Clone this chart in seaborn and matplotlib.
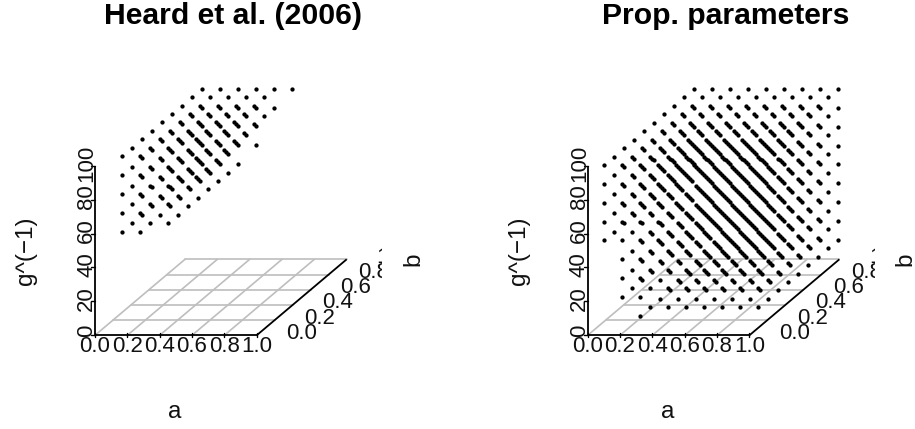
import matplotlib

matplotlib.use("Agg")
import matplotlib.pyplot as plt
import pandas as pd
import seaborn as sns

a_levels = [1 / 9, 2 / 9, 3 / 9, 4 / 9, 5 / 9, 6 / 9, 7 / 9, 8 / 9, 1.0]
b_levels = [0.0, 1 / 9, 2 / 9, 3 / 9, 4 / 9, 5 / 9, 6 / 9, 7 / 9, 8 / 9, 1.0]
g_levels = [100 / 9, 200 / 9, 300 / 9, 400 / 9, 500 / 9, 600 / 9, 700 / 9, 800 / 9, 100.0]

# Heard: how many a levels are kept, per g level (key = g index) and b level (b index 1..9)
heard_a_count = {
    4: [2, 3, 3, 3, 3, 3, 3, 3, 3],
    5: [2, 3, 3, 3, 3, 3, 3, 3, 4],
    6: [2, 3, 4, 4, 4, 4, 4, 4, 4],
    7: [2, 3, 4, 5, 5, 5, 5, 5, 5],
    8: [2, 3, 4, 5, 5, 5, 5, 5, 6],
}
# Proposed: first a level used for each g level, last a level used when b = 0
prop_a_first = [3, 2, 2, 2, 1, 1, 1, 1, 1]
prop_a_last_b0 = [3, 3, 3, 3, 4, 4, 5, 5, 6]

tick_vals = [0.0, 0.2, 0.4, 0.6, 0.8, 1.0]
tick_labels = ["0.0", "0.2", "0.4", "0.6", "0.8", "1.0"]
g_ticks = [0, 20, 40, 60, 80, 100]
g_tick_labels = ["0", "20", "40", "60", "80", "100"]
titles = ["Heard et al. (2006)", "Prop. parameters"]

W, H = 915, 429
A_PX = 161.7
G_PX = 1.696
BX = 90 / A_PX
BY = 76 / G_PX
ORIGIN_Y = 335.3
TEXT_COLOR = "#111111"


def heard_points():
    rows = []
    for k, counts in heard_a_count.items():
        for j, n in enumerate(counts, start=1):
            for i in range(n):
                rows.append((a_levels[i], b_levels[j], g_levels[k]))
    return pd.DataFrame(rows, columns=["a", "b", "g"])


def prop_points():
    rows = []
    for k, g in enumerate(g_levels):
        for j, b in enumerate(b_levels):
            last = prop_a_last_b0[k] if j == 0 else 9
            for i in range(prop_a_first[k] - 1, last):
                rows.append((a_levels[i], b, g))
    return pd.DataFrame(rows, columns=["a", "b", "g"])


def project(a, b, g):
    return a + BX * b, g + BY * b


def draw_panel(fig, origin_x, df, title, nudge):
    left, right, top, bottom = origin_x - 75, origin_x + 287, 40, 370
    ax = fig.add_axes([left / W, 1 - bottom / H, (right - left) / W, (bottom - top) / H])
    ax.set_xlim((left - origin_x) / A_PX, (right - origin_x) / A_PX)
    ax.set_ylim((ORIGIN_Y - bottom) / G_PX, (ORIGIN_Y - top) / G_PX)
    ax.axis("off")

    # grid on the floor
    for t in tick_vals:
        if t < 1:
            x0, y0 = project(t, 0, 0)
            x1, y1 = project(t, 1, 0)
            ax.plot([x0, x1], [y0, y1], color="#bebebe", lw=1.2, zorder=1)
        if t > 0:
            x0, y0 = project(0, t, 0)
            x1, y1 = project(1, t, 0)
            ax.plot([x0, x1], [y0, y1], color="#bebebe", lw=1.2, zorder=1)

    # box axes
    ax.plot([0, 1], [0, 0], color="black", lw=1.3, zorder=2, solid_capstyle="butt")
    ax.plot([0, 0], [0, 100], color="black", lw=1.3, zorder=2, solid_capstyle="butt")
    x1, y1 = project(1, 1, 0)
    ax.plot([1, x1], [0, y1], color="black", lw=1.3, zorder=2, solid_capstyle="butt")

    for t, lab in zip(tick_vals, tick_labels):
        ax.plot([t, t], [-1.2, 1.2], color="black", lw=1.0, zorder=2)
        ax.text(t, -(347 - ORIGIN_Y) / G_PX, lab, ha="center", va="center",
                fontsize=16, color=TEXT_COLOR, clip_on=False)
        bx, by = project(1, t, 0)
        ax.text(bx + 45 / A_PX, by + 2 / G_PX, lab, ha="center", va="center",
                fontsize=16, color=TEXT_COLOR, clip_on=True)

    for g, lab in zip(g_ticks, g_tick_labels):
        ax.plot([-4 / A_PX, 0], [g, g], color="black", lw=1.0, zorder=2)
        shift = 4.5 if g == 0 else 2.5
        ax.text(-8.3 / A_PX, g + shift / G_PX, lab, rotation=90, ha="center", va="center",
                fontsize=16, color=TEXT_COLOR, clip_on=False)

    proj = df.copy()
    proj["px"], proj["py"] = project(proj["a"], proj["b"], proj["g"])
    proj["px"] += nudge[0] / A_PX
    proj["py"] += nudge[1] / G_PX
    sns.scatterplot(data=proj, x="px", y="py", ax=ax, color="black", s=9.5, linewidth=0,
                    legend=False, zorder=3, clip_on=False)
    ax.set_xlabel("")
    ax.set_ylabel("")

    ax.text((175 - 95) / A_PX, -(412 - ORIGIN_Y) / G_PX, "a", ha="center", va="center",
            fontsize=17.5, color=TEXT_COLOR, clip_on=False)
    ax.text((413 - 95) / A_PX, (ORIGIN_Y - 259) / G_PX, "b", rotation=90, ha="center",
            va="center", fontsize=17.5, color=TEXT_COLOR, clip_on=False)
    ax.text((26.5 - 95) / A_PX, (ORIGIN_Y - 251) / G_PX, "g^(\u22121)", rotation=90, ha="center",
            va="center", fontsize=17.5, color=TEXT_COLOR, clip_on=False)
    ax.text((233 - 95) / A_PX, (ORIGIN_Y - 15.5) / G_PX, title, ha="center", va="center",
            fontsize=21.7, fontweight="bold", color="black", clip_on=False)


sns.set_theme(style="white")
plt.rcParams["font.family"] = ["Liberation Sans", "DejaVu Sans"]

fig = plt.figure(figsize=(W / 100, H / 100), dpi=100)
draw_panel(fig, 95, heard_points(), titles[0], (-1.0, 1.0))
draw_panel(fig, 587.7, prop_points(), titles[1], (-1.7, 0.7))
fig.savefig("out.png", dpi=100)
